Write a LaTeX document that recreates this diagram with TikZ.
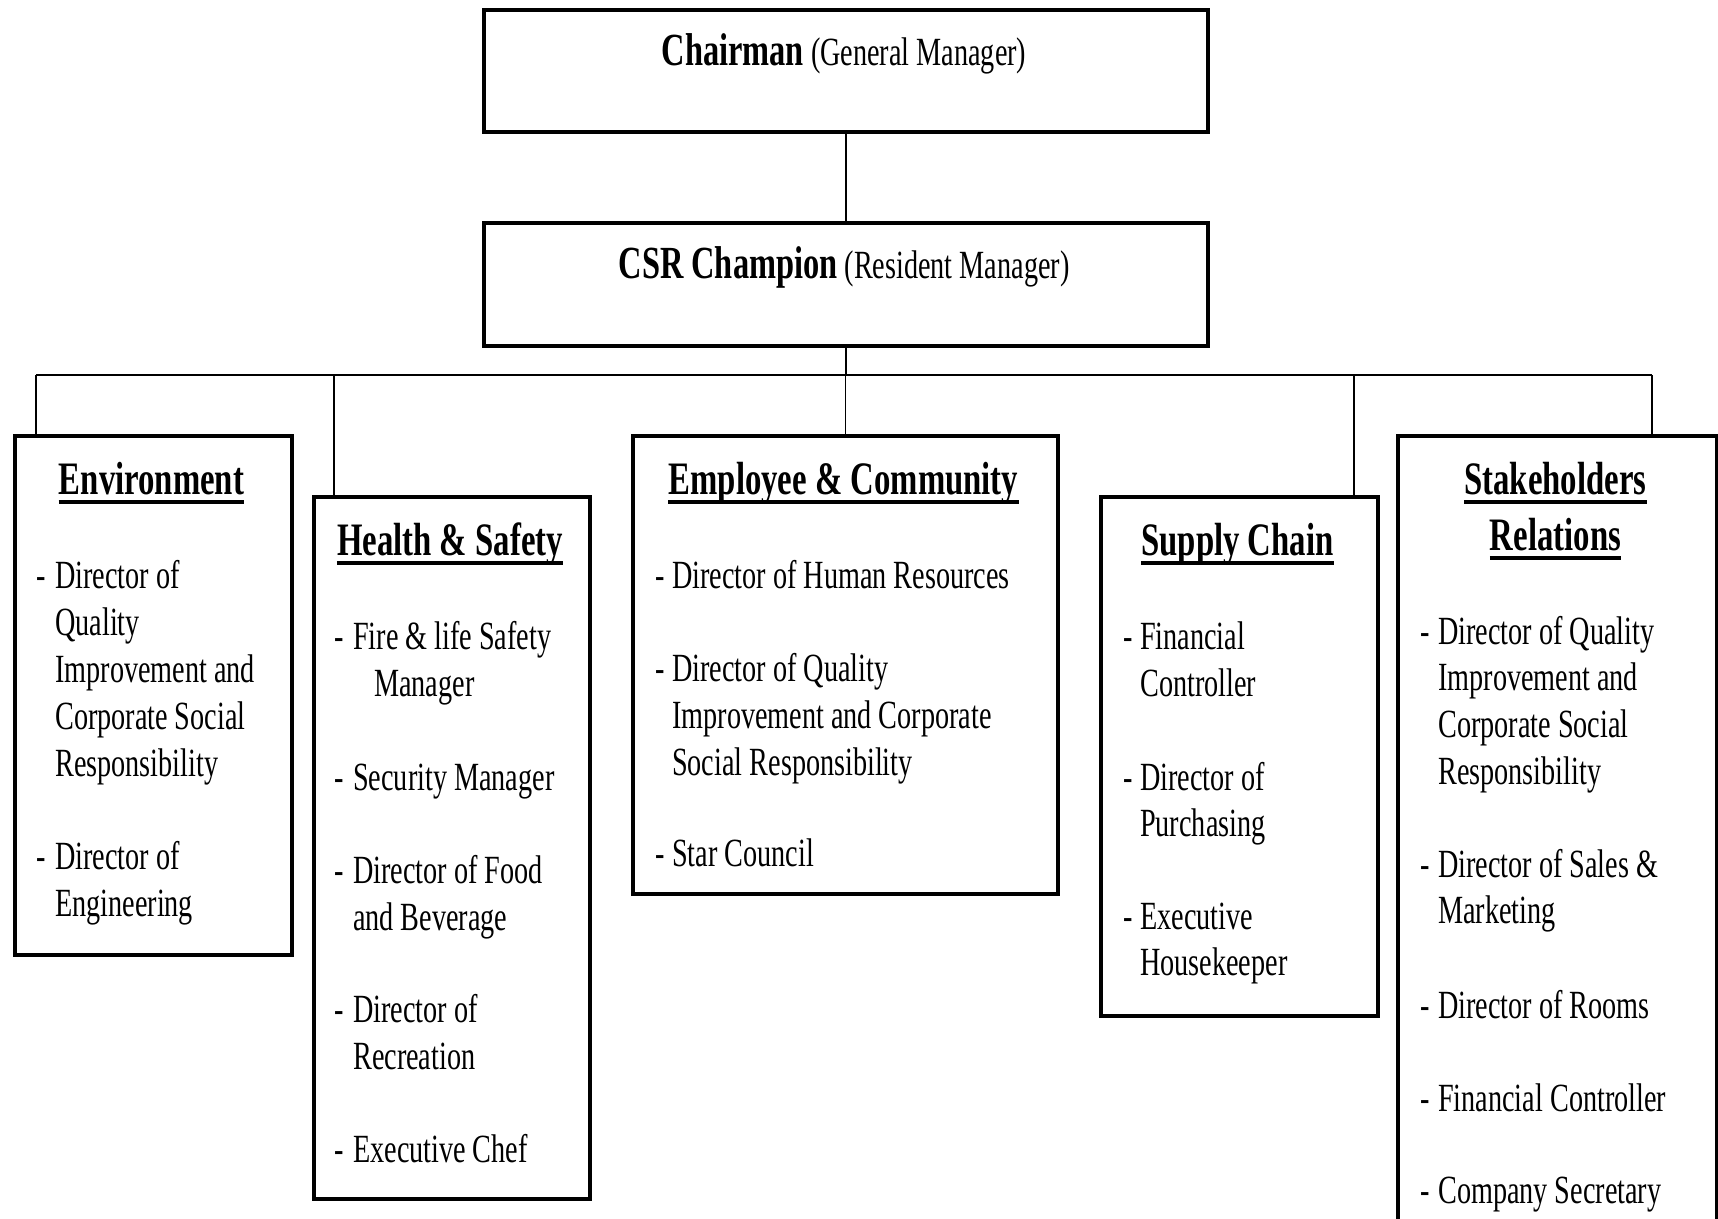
\documentclass[tikz,border=0pt]{standalone}
\usepackage{fontspec}
\setmainfont{Liberation Serif}[FakeStretch=0.705]
\begin{document}
\begin{tikzpicture}[x=1pt,y=-1pt,
  box/.style={draw, line width=4pt, inner sep=0pt, anchor=north west, fill=white},
  conn/.style={line width=1.5pt},
  item/.style={anchor=base west, inner sep=0pt, font=\fontsize{40}{47}\selectfont},
  ttl/.style={anchor=base, inner sep=0pt, font=\fontsize{46.5}{56}\selectfont\bfseries},
  head/.style={anchor=base, inner sep=0pt, font=\fontsize{40}{48}\selectfont},
  uline/.style={line width=3.5pt}
]
\useasboundingbox (0,0) rectangle (1718,1218);
\clip (0,0) rectangle (1718,1218);
\fill[white] (0,0) rectangle (1718,1218);

\coordinate (busL) at (36,375);
\coordinate (busR) at (1652,375);
\coordinate (dHS) at (334,375);
\coordinate (dSC) at (1354,375);

% boxes
\node[box, minimum width=724pt, minimum height=122pt] (chair) at (482,8) {};
\node[box, minimum width=724pt, minimum height=123pt] (csr) at (482,221) {};
\node[box, minimum width=277pt, minimum height=519pt] (env) at (13,434) {};
\node[box, minimum width=276pt, minimum height=702pt] (hs) at (312,495) {};
\node[box, minimum width=425pt, minimum height=458pt] (emp) at (631,434) {};
\node[box, minimum width=277pt, minimum height=519pt] (sup) at (1099,495) {};
\node[box, minimum width=319pt, minimum height=820pt] (stk) at (1396,434) {};

% connectors
\draw[conn] (busL) -- (busR);
\draw[conn] (chair.south) -- (csr.north);
\draw[conn] (csr.south) -- (csr.south |- busL);
\draw[conn] (busL) -- (busL |- env.north);
\draw[conn] (dHS) -- (dHS |- hs.north);
\draw[conn] (emp.north |- busL) -- (emp.north);
\draw[conn] (dSC) -- (dSC |- sup.north);
\draw[conn] (busR) -- (busR |- stk.north);

% top titles
\node[head] (chairT) at (844,65) {{\fontsize{46}{50}\selectfont\bfseries Chairman} (General Manager)};
\node[head] (csrT) at (844,278) {{\fontsize{46}{50}\selectfont\bfseries CSR Champion} (Resident Manager)};

% box titles
\node[ttl] (envT) at (151.5,494) {Environment};
\node[ttl] (hsT) at (450,555) {Health \& Safety};
\node[ttl] (empT) at (843.5,494) {Employee \& Community};
\node[ttl] (supT) at (1237.5,555) {Supply Chain};
\node[ttl] (stkT) at (1555.5,494) {Stakeholders};
\node[ttl] (stkT2) at (1555.5,550) {Relations};
\foreach \t in {envT,hsT,empT,supT,stkT,stkT2}{
  \draw[uline] ([yshift=-8pt]\t.base west) -- ([yshift=-8pt]\t.base east);
}

% Environment
\node[item] (e1d) at (36,588) {-};
\node[item] (e1a) at (55,588) {Director of};
\node[item] (e1b) at (55,635) {Quality};
\node[item] (e1c) at (55,682) {Improvement and};
\node[item] (e1e) at (55,729) {Corporate Social};
\node[item] (e1f) at (55,776) {Responsibility};
\node[item] (e2d) at (36,869) {-};
\node[item] (e2a) at (55,869) {Director of};
\node[item] (e2b) at (55,916) {Engineering};

% Health & Safety
\node[item] (h1d) at (334,649) {-};
\node[item] (h1a) at (353,649) {Fire \& life Safety};
\node[item] (h1b) at (374,696) {Manager};
\node[item] (h2d) at (334,790) {-};
\node[item] (h2a) at (353,790) {Security Manager};
\node[item] (h3d) at (334,883) {-};
\node[item] (h3a) at (353,883) {Director of Food};
\node[item] (h3b) at (353,930) {and Beverage};
\node[item] (h4d) at (334,1022) {-};
\node[item] (h4a) at (353,1022) {Director of};
\node[item] (h4b) at (353,1069) {Recreation};
\node[item] (h5d) at (334,1162) {-};
\node[item] (h5a) at (353,1162) {Executive Chef};

% Employee & Community
\node[item] (m1d) at (655,588) {-};
\node[item] (m1a) at (672,588) {Director of Human Resources};
\node[item] (m2d) at (655,681) {-};
\node[item] (m2a) at (672,681) {Director of Quality};
\node[item] (m2b) at (672,728) {Improvement and Corporate};
\node[item] (m2c) at (672,775) {Social Responsibility};
\node[item] (m3d) at (655,866) {-};
\node[item] (m3a) at (672,866) {Star Council};

% Supply Chain
\node[item] (s1d) at (1123,649) {-};
\node[item] (s1a) at (1140,649) {Financial};
\node[item] (s1b) at (1140,696) {Controller};
\node[item] (s2d) at (1123,790) {-};
\node[item] (s2a) at (1140,790) {Director of};
\node[item] (s2b) at (1140,836) {Purchasing};
\node[item] (s3d) at (1123,929) {-};
\node[item] (s3a) at (1140,929) {Executive};
\node[item] (s3b) at (1140,975) {Housekeeper};

% Stakeholders Relations
\node[item] (k1d) at (1420,644) {-};
\node[item] (k1a) at (1438,644) {Director of Quality};
\node[item] (k1b) at (1438,690) {Improvement and};
\node[item] (k1c) at (1438,737) {Corporate Social};
\node[item] (k1e) at (1438,784) {Responsibility};
\node[item] (k2d) at (1420,877) {-};
\node[item] (k2a) at (1438,877) {Director of Sales \&};
\node[item] (k2b) at (1438,923) {Marketing};
\node[item] (k3d) at (1420,1018) {-};
\node[item] (k3a) at (1438,1018) {Director of Rooms};
\node[item] (k4d) at (1420,1111) {-};
\node[item] (k4a) at (1438,1111) {Financial Controller};
\node[item] (k5d) at (1420,1203) {-};
\node[item] (k5a) at (1438,1203) {Company Secretary};
\end{tikzpicture}
\end{document}
